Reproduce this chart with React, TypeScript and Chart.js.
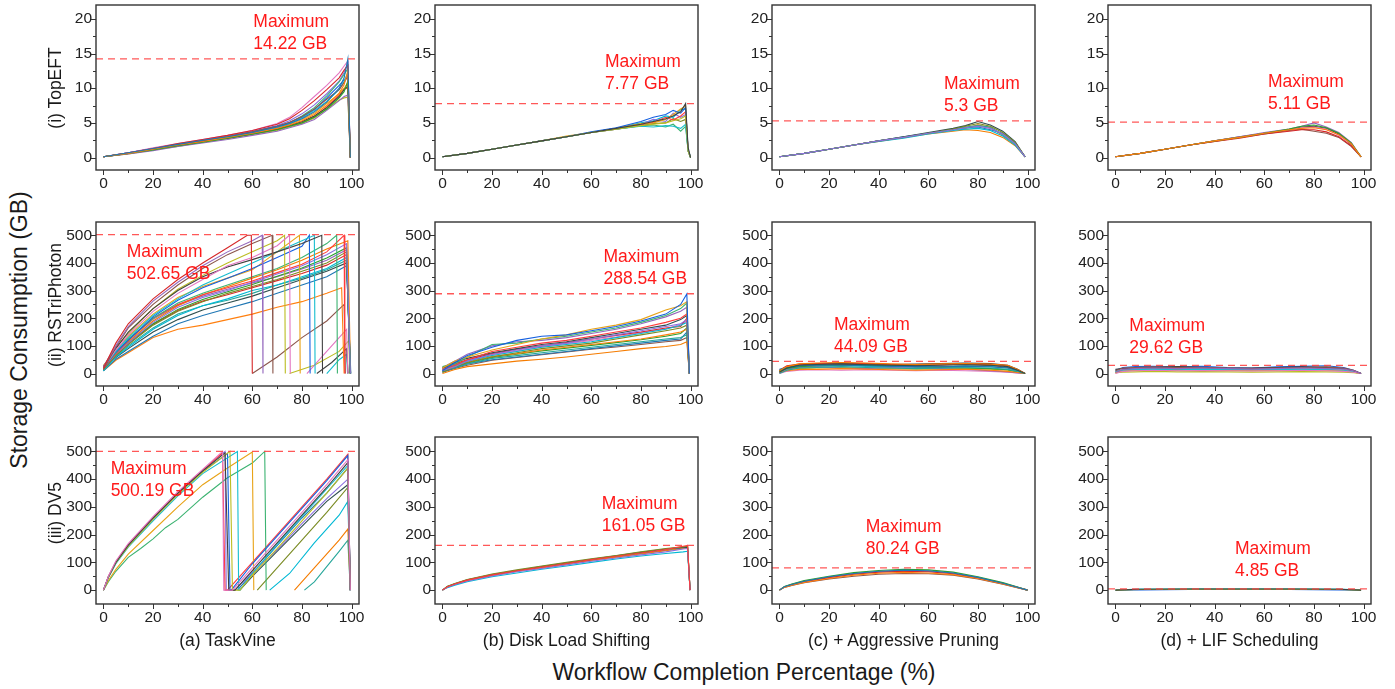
import React, { useEffect, useRef } from "react";
import { Chart, registerables } from "chart.js";
Chart.register(...registerables);

const FONT = '"Liberation Sans", Arial, Helvetica, sans-serif';

// ---------- axes ----------
const X_MIN = -3;
const X_MAX = 103;
const X_TICKS = [0, 20, 40, 60, 80, 100];
const X_MINOR = [10, 30, 50, 70, 90];
const Y_TICKS_SMALL = [0, 5, 10, 15, 20];
const Y_MINOR_SMALL = [2.5, 7.5, 12.5, 17.5];
const Y_TICKS_LARGE = [0, 100, 200, 300, 400, 500];
const Y_MINOR_LARGE = [50, 150, 250, 350, 450];
const ROW_Y_RANGE = [[-1.8, 22], [-45, 548], [-50, 552]];

// ---------- labels ----------
const ROW_LABELS = ["(i) TopEFT", "(ii) RSTriPhoton", "(iii) DV5"];
const COL_LABELS = ["(a) TaskVine", "(b) Disk Load Shifting", "(c) + Aggressive Pruning", "(d) + LIF Scheduling"];
const Y_TITLE = "Storage Consumption (GB)";
const X_TITLE = "Workflow Completion Percentage (%)";
const MAX_GB = [
  [14.22, 7.77, 5.3, 5.11],
  [502.65, 288.54, 44.09, 29.62],
  [500.19, 161.05, 80.24, 4.85],
];
// text anchor (x %, y GB) of the "Maximum" note
const MAX_NOTE_AT = [
  [[60.4, 19.5], [65.5, 13.8], [66.3, 10.6], [61.5, 10.9]],
  [[9.4, 440], [64.9, 420], [22, 176], [5.6, 173]],
  [[2.9, 436], [64.2, 310], [34.8, 226], [48.2, 148]],
];

// ---------- data: (i) TopEFT ----------
const A1_X = [0, 10, 20, 30, 40, 50, 60, 70, 75, 80, 85, 90, 95, 97, 98.5, 99.5];
const A1_Y = [
  [0.1, 0.7, 1.3, 1.9, 2.5, 3.0, 3.6, 4.4, 4.9, 5.6, 6.6, 8.0, 10.0, 11.5, 14.2, 0],
  [0.1, 0.6, 1.2, 1.8, 2.3, 2.9, 3.5, 4.2, 4.7, 5.3, 6.2, 7.5, 9.3, 10.5, 12.5, 0],
  [0.1, 0.6, 1.1, 1.7, 2.2, 2.8, 3.4, 4.0, 4.5, 5.0, 5.8, 7.0, 8.6, 9.5, 11.0, 0],
  [0.1, 0.7, 1.3, 2.0, 2.6, 3.2, 3.9, 4.8, 5.6, 6.8, 8.2, 9.8, 11.5, 12.6, 13.3, 0],
  [0.1, 0.5, 1.0, 1.6, 2.1, 2.6, 3.2, 3.8, 4.3, 4.8, 5.5, 6.8, 8.2, 8.8, 9.0, 0],
  [0.1, 0.6, 1.2, 1.8, 2.4, 3.0, 3.7, 4.5, 5.1, 5.9, 7.0, 8.4, 9.8, 10.8, 11.8, 0],
  [0.1, 0.7, 1.4, 2.0, 2.6, 3.2, 3.9, 4.9, 5.8, 7.2, 8.8, 10.4, 12.2, 13.2, 13.9, 0],
  [0.1, 0.6, 1.2, 1.7, 2.3, 2.8, 3.4, 4.1, 4.6, 5.2, 6.0, 7.2, 8.8, 9.8, 10.3, 0],
  [0.1, 0.5, 1.1, 1.6, 2.2, 2.7, 3.3, 3.9, 4.4, 4.9, 5.7, 7.0, 8.3, 8.6, 8.7, 0],
  [0.1, 0.6, 1.3, 1.9, 2.4, 3.0, 3.6, 4.3, 4.9, 5.7, 6.8, 8.1, 9.8, 11.0, 12.2, 0],
  [0.1, 0.7, 1.3, 1.9, 2.5, 3.1, 3.7, 4.5, 5.0, 5.8, 6.9, 8.6, 10.4, 11.2, 11.5, 0],
  [0.1, 0.6, 1.2, 1.8, 2.3, 2.9, 3.5, 4.2, 4.8, 5.5, 6.4, 7.8, 9.2, 10.0, 10.8, 0],
  [0.1, 0.6, 1.2, 1.8, 2.4, 3.0, 3.6, 4.4, 5.0, 6.0, 7.2, 8.9, 10.9, 12.0, 12.8, 0],
  [0.1, 0.6, 1.2, 1.7, 2.3, 2.9, 3.5, 4.1, 4.6, 5.1, 5.9, 7.3, 9.0, 9.9, 10.0, 0],
  [0.1, 0.7, 1.3, 1.9, 2.5, 3.1, 3.8, 4.6, 5.3, 6.3, 7.6, 9.2, 11.0, 12.3, 13.6, 0],
];
const B1_X = [0, 10, 20, 30, 40, 50, 60, 70, 80, 85, 90, 93, 96, 98, 99, 100];
const B1_Y = [
  [0.1, 0.6, 1.2, 1.8, 2.4, 3.0, 3.6, 4.2, 4.8, 5.2, 5.6, 6.0, 6.6, 7.77, 1.5, 0],
  [0.1, 0.6, 1.2, 1.8, 2.4, 3.0, 3.6, 4.1, 4.6, 4.8, 5.0, 5.3, 5.6, 6.0, 1.0, 0],
  [0.1, 0.6, 1.2, 1.8, 2.4, 3.0, 3.6, 4.1, 4.5, 4.4, 4.6, 4.5, 4.2, 4.8, 1.0, 0],
  [0.1, 0.6, 1.2, 1.8, 2.4, 3.0, 3.7, 4.3, 5.2, 5.8, 6.2, 6.8, 6.4, 7.2, 1.2, 0],
  [0.1, 0.6, 1.2, 1.8, 2.4, 3.1, 3.6, 4.2, 4.9, 5.0, 5.5, 6.2, 7.0, 7.4, 1.0, 0],
  [0.1, 0.6, 1.2, 1.8, 2.4, 3.0, 3.6, 4.2, 4.6, 4.7, 4.4, 4.8, 3.8, 4.5, 1.0, 0],
  [0.1, 0.6, 1.2, 1.8, 2.4, 3.0, 3.6, 4.1, 4.7, 5.1, 5.8, 5.4, 6.0, 6.6, 1.0, 0],
  [0.1, 0.6, 1.2, 1.8, 2.4, 3.0, 3.6, 4.2, 4.8, 5.5, 5.2, 6.4, 5.8, 6.2, 1.0, 0],
  [0.1, 0.6, 1.2, 1.8, 2.4, 3.0, 3.6, 4.1, 4.6, 4.9, 5.0, 5.6, 5.2, 5.5, 1.0, 0],
  [0.1, 0.6, 1.2, 1.8, 2.4, 3.0, 3.6, 4.2, 5.0, 5.3, 6.0, 5.8, 6.9, 7.0, 1.0, 0],
];
const C1_X = [0, 10, 20, 30, 40, 50, 60, 70, 75, 80, 85, 90, 95, 99];
const C1_Y = [
  [0.1, 0.6, 1.2, 1.8, 2.4, 2.9, 3.5, 4.0, 4.3, 4.5, 4.2, 3.4, 2.0, 0.1],
  [0.1, 0.6, 1.2, 1.8, 2.4, 2.9, 3.5, 4.1, 4.5, 4.9, 4.5, 3.6, 2.2, 0.1],
  [0.1, 0.6, 1.2, 1.8, 2.3, 2.8, 3.4, 3.9, 4.1, 4.2, 3.9, 3.1, 1.8, 0.1],
  [0.1, 0.6, 1.2, 1.8, 2.4, 3.0, 3.6, 4.2, 4.6, 5.2, 4.7, 3.8, 2.3, 0.1],
  [0.1, 0.6, 1.2, 1.8, 2.3, 2.9, 3.4, 3.8, 4.0, 3.9, 3.6, 2.9, 1.7, 0.1],
  [0.1, 0.6, 1.2, 1.8, 2.4, 2.9, 3.5, 4.0, 4.4, 4.6, 4.4, 3.3, 2.0, 0.1],
  [0.1, 0.6, 1.2, 1.8, 2.4, 3.0, 3.5, 4.1, 4.3, 4.4, 4.0, 3.5, 2.1, 0.1],
  [0.1, 0.6, 1.2, 1.8, 2.4, 2.9, 3.5, 4.0, 4.2, 4.7, 4.3, 3.2, 1.9, 0.1],
];
const D1_X = [0, 10, 20, 30, 40, 50, 60, 70, 75, 80, 85, 90, 95, 99];
const D1_Y = [
  [0.1, 0.6, 1.2, 1.8, 2.4, 2.9, 3.5, 4.0, 4.2, 4.3, 4.0, 3.3, 2.0, 0.1],
  [0.1, 0.6, 1.2, 1.8, 2.4, 2.9, 3.5, 4.1, 4.5, 4.7, 4.3, 3.5, 2.1, 0.1],
  [0.1, 0.6, 1.2, 1.8, 2.3, 2.8, 3.4, 3.8, 4.0, 4.0, 3.7, 3.0, 1.7, 0.1],
  [0.1, 0.6, 1.2, 1.8, 2.4, 3.0, 3.6, 4.1, 4.5, 5.0, 4.4, 3.6, 2.2, 0.1],
  [0.1, 0.6, 1.2, 1.8, 2.3, 2.9, 3.4, 3.9, 4.1, 3.8, 3.5, 2.9, 1.6, 0.1],
  [0.1, 0.6, 1.2, 1.8, 2.4, 2.9, 3.5, 4.0, 4.3, 4.4, 4.1, 3.2, 2.0, 0.1],
  [0.1, 0.6, 1.2, 1.8, 2.4, 3.0, 3.5, 4.0, 4.4, 4.5, 4.2, 3.4, 1.9, 0.1],
];

// ---------- data: (ii) RSTriPhoton ----------
// each line: x, y, x, y, ...
const A2_LINES = [
  [0, 20, 5, 110, 10, 180, 20, 270, 30, 340, 40, 400, 50, 455, 58, 500, 59.6, 500, 60, 0],
  [0, 25, 5, 100, 10, 170, 20, 262, 30, 330, 40, 390, 50, 440, 60, 480, 64, 500, 64.3, 0],
  [0, 15, 5, 95, 10, 165, 20, 250, 30, 320, 40, 380, 50, 430, 60, 470, 68, 500, 68.3, 0],
  [0, 20, 5, 85, 10, 140, 20, 225, 30, 290, 40, 340, 50, 390, 60, 420, 70, 462, 75, 500, 75.3, 0],
  [0, 25, 5, 90, 10, 150, 20, 235, 30, 300, 40, 350, 50, 385, 60, 412, 70, 440, 80, 470, 88, 500, 88.3, 0],
  [0, 25, 5, 95, 10, 145, 20, 235, 30, 305, 40, 355, 50, 400, 60, 440, 70, 480, 73, 500, 73.3, 0],
  [0, 20, 5, 80, 10, 130, 20, 210, 30, 270, 40, 320, 50, 360, 60, 400, 70, 440, 80, 480, 85, 500, 85.3, 0],
  [0, 20, 5, 78, 10, 120, 20, 205, 30, 265, 40, 310, 50, 345, 60, 380, 70, 420, 80, 460, 83, 500, 83.3, 0],
  [0, 30, 5, 82, 10, 135, 20, 215, 30, 275, 40, 315, 50, 345, 60, 375, 70, 440, 79, 500, 79.3, 0],
  [0, 25, 5, 75, 10, 125, 20, 200, 30, 255, 40, 290, 50, 320, 60, 350, 70, 380, 80, 420, 90, 470, 94, 500, 94.3, 0],
  [0, 20, 5, 72, 10, 120, 20, 200, 30, 250, 40, 285, 50, 310, 60, 335, 70, 365, 80, 395, 90, 440, 97, 500, 97.3, 0],
  [0, 20, 5, 70, 10, 110, 20, 185, 30, 240, 40, 275, 50, 300, 60, 330, 70, 360, 80, 390, 90, 430, 98, 470, 99.5, 0],
  [0, 15, 5, 65, 10, 105, 20, 175, 30, 225, 40, 260, 50, 290, 60, 315, 70, 340, 80, 370, 90, 400, 98, 440, 99.5, 0],
  [0, 10, 5, 60, 10, 95, 20, 160, 30, 210, 40, 245, 50, 270, 60, 300, 70, 320, 80, 350, 90, 380, 98, 420, 99.6, 0],
  [0, 20, 5, 58, 10, 90, 20, 150, 30, 195, 40, 230, 50, 255, 60, 280, 70, 310, 80, 340, 90, 370, 98, 400, 99.6, 0],
  [0, 15, 5, 66, 10, 115, 20, 190, 30, 245, 40, 285, 50, 315, 60, 345, 70, 375, 80, 410, 90, 450, 98.5, 480, 99.6, 0],
  [0, 15, 5, 62, 10, 100, 20, 165, 30, 215, 40, 245, 50, 265, 60, 290, 70, 320, 80, 345, 90, 375, 98, 410, 99.5, 0],
  [0, 10, 5, 52, 10, 80, 20, 135, 30, 180, 40, 210, 50, 235, 60, 260, 70, 290, 80, 320, 90, 350, 98, 390, 99.7, 0],
  [0, 10, 5, 48, 10, 75, 20, 130, 30, 160, 40, 175, 50, 195, 60, 215, 70, 240, 80, 260, 90, 290, 96, 310, 97, 0],
  [0, 18, 5, 68, 10, 112, 20, 180, 30, 232, 40, 268, 50, 296, 60, 322, 70, 352, 80, 382, 90, 418, 98, 455, 99.4, 0],
  [0, 12, 5, 64, 10, 108, 20, 178, 30, 228, 40, 262, 50, 285, 60, 310, 70, 336, 80, 362, 90, 392, 98, 430, 99.5, 0],
  [0, 22, 5, 74, 10, 122, 20, 196, 30, 248, 40, 280, 50, 305, 60, 328, 70, 350, 80, 378, 90, 410, 98, 448, 99.6, 0],
  [60, 0, 70, 60, 80, 130, 90, 190, 97, 250, 97.5, 0],
  [82, 0, 88, 60, 94, 120, 98, 160, 98.5, 0],
  [86, 0, 92, 40, 98, 90, 98.6, 0],
  [75, 0, 85, 30, 95, 80, 99, 120, 99.2, 0],
  [90, 0, 95, 50, 98, 70, 98.4, 0],
];
const B2_X = [0, 5, 10, 20, 30, 40, 50, 60, 70, 80, 90, 96, 98.5, 99.5];
const B2_Y = [
  [10, 40, 65, 95, 120, 135, 140, 155, 170, 190, 215, 250, 288, 0],
  [20, 45, 60, 85, 105, 125, 140, 160, 175, 195, 230, 245, 260, 0],
  [25, 35, 60, 105, 110, 125, 135, 150, 165, 185, 210, 235, 255, 0],
  [15, 30, 50, 80, 95, 110, 120, 135, 150, 165, 185, 200, 215, 0],
  [10, 25, 45, 70, 85, 100, 110, 125, 140, 155, 170, 180, 195, 0],
  [5, 25, 40, 60, 75, 90, 100, 110, 125, 140, 155, 165, 175, 0],
  [15, 30, 45, 65, 80, 95, 105, 115, 130, 145, 160, 175, 185, 0],
  [20, 40, 55, 75, 90, 105, 115, 130, 145, 160, 175, 195, 210, 0],
  [0, 15, 25, 35, 45, 52, 60, 70, 80, 90, 98, 105, 115, 0],
  [10, 20, 35, 55, 65, 75, 85, 95, 105, 115, 125, 130, 140, 0],
  [5, 20, 35, 50, 60, 70, 80, 90, 100, 110, 120, 125, 150, 0],
  [12, 28, 42, 62, 72, 85, 95, 105, 115, 125, 140, 150, 160, 0],
  [8, 22, 38, 58, 70, 82, 92, 102, 112, 122, 135, 145, 165, 0],
  [18, 35, 50, 72, 88, 100, 112, 125, 138, 150, 165, 170, 200, 0],
  [22, 45, 70, 100, 115, 120, 130, 145, 160, 180, 205, 225, 240, 0],
  [6, 18, 30, 48, 58, 68, 78, 88, 96, 105, 115, 120, 130, 0],
  [14, 32, 48, 68, 82, 96, 108, 120, 132, 148, 162, 178, 190, 0],
];
const C2_X = [0, 3, 8, 15, 25, 35, 45, 55, 65, 75, 85, 92, 96, 99];
const C2_Y = [
  [5, 20, 30, 33, 35, 32, 30, 28, 30, 32, 30, 25, 12, 0],
  [10, 25, 35, 38, 40, 38, 35, 33, 35, 36, 34, 30, 15, 0],
  [0, 12, 20, 22, 25, 22, 20, 18, 20, 22, 20, 15, 8, 0],
  [15, 22, 28, 30, 30, 28, 26, 25, 24, 26, 24, 20, 10, 0],
  [5, 10, 15, 15, 18, 16, 14, 12, 14, 16, 12, 8, 4, 0],
  [8, 18, 25, 28, 28, 30, 28, 25, 22, 20, 18, 14, 6, 0],
  [12, 28, 34, 36, 38, 36, 33, 30, 32, 34, 33, 28, 14, 0],
  [3, 15, 22, 24, 20, 18, 22, 20, 18, 15, 10, 6, 2, 0],
  [10, 20, 26, 30, 32, 34, 30, 28, 26, 24, 30, 22, 10, 0],
  [0, 8, 12, 14, 12, 14, 12, 10, 12, 10, 8, 5, 2, 0],
  [6, 22, 32, 35, 36, 34, 33, 34, 36, 38, 36, 30, 16, 0],
  [4, 14, 18, 20, 22, 20, 18, 16, 16, 18, 16, 12, 6, 0],
  [9, 16, 22, 26, 28, 26, 24, 22, 24, 28, 26, 20, 10, 0],
];
const D2_X = [0, 3, 8, 15, 25, 35, 45, 55, 65, 75, 85, 92, 96, 99];
const D2_Y = [
  [5, 15, 18, 20, 18, 20, 18, 16, 18, 20, 18, 16, 10, 0],
  [10, 20, 22, 24, 22, 23, 20, 18, 20, 22, 24, 20, 12, 0],
  [0, 8, 10, 12, 10, 11, 10, 9, 10, 12, 10, 8, 5, 0],
  [15, 18, 20, 22, 25, 22, 19, 20, 22, 24, 22, 18, 10, 0],
  [3, 5, 6, 8, 6, 7, 6, 5, 6, 7, 6, 5, 3, 0],
  [8, 12, 15, 16, 14, 16, 15, 14, 15, 16, 15, 12, 6, 0],
  [12, 22, 25, 26, 24, 26, 22, 20, 24, 26, 28, 22, 12, 0],
  [2, 10, 12, 10, 12, 14, 12, 10, 12, 14, 12, 10, 5, 0],
  [6, 14, 16, 18, 20, 18, 16, 18, 20, 22, 20, 17, 9, 0],
  [4, 9, 12, 14, 16, 14, 12, 12, 14, 16, 14, 11, 6, 0],
];

// ---------- data: (iii) DV5 ----------
const A3_LINES = [
  [0, 0, 2, 50, 5, 105, 10, 168, 20, 265, 30, 355, 40, 435, 48, 500, 48.5, 0, 52, 0, 60, 80, 70, 180, 80, 280, 90, 380, 98.5, 470, 99.5, 0],
  [0, 0, 2, 48, 5, 100, 10, 162, 20, 260, 30, 350, 40, 430, 49, 495, 50.5, 0, 53, 0, 60, 70, 70, 170, 80, 270, 90, 370, 98.5, 460, 99.5, 0],
  [0, 0, 2, 46, 5, 98, 10, 158, 20, 255, 30, 345, 40, 425, 51, 500, 52, 0, 55, 0, 60, 55, 70, 150, 80, 250, 90, 350, 98.5, 440, 99.5, 0],
  [0, 0, 2, 45, 5, 95, 10, 155, 20, 250, 30, 340, 40, 420, 54, 500, 54.5, 0, 55, 0, 60, 60, 70, 165, 80, 265, 90, 365, 98.5, 450, 99.5, 0],
  [0, 0, 2, 47, 5, 98, 10, 160, 20, 258, 30, 348, 40, 428, 50, 492, 51, 0, 51.5, 0, 60, 95, 70, 195, 80, 295, 90, 395, 98.5, 485, 99.5, 0],
  [0, 0, 2, 35, 5, 75, 10, 130, 20, 215, 30, 300, 40, 380, 50, 440, 60, 498, 60.6, 0],
  [0, 0, 2, 30, 5, 68, 10, 118, 15, 150, 20, 185, 25, 225, 30, 255, 40, 335, 50, 405, 60, 458, 65, 500, 65.6, 0],
  [0, 0, 2, 49, 5, 102, 10, 165, 20, 262, 30, 352, 40, 432, 48, 495, 49, 0, 50, 0, 60, 100, 70, 200, 80, 300, 90, 400, 98.5, 490, 99.5, 0],
  [0, 0, 2, 48, 5, 100, 10, 160, 20, 260, 30, 350, 40, 430, 49, 500, 49.5, 0, 53, 0, 60, 65, 70, 145, 80, 240, 90, 330, 98.5, 400, 99.5, 0],
  [62, 0, 70, 80, 80, 180, 90, 280, 98.5, 370, 99.5, 0],
  [67, 0, 75, 60, 85, 170, 95, 270, 98.5, 320, 99.5, 0],
  [55, 0, 60, 50, 70, 140, 80, 230, 90, 320, 98.5, 380, 99.5, 0],
  [77, 0, 85, 80, 95, 180, 98.5, 220, 99.5, 0],
  [81, 0, 85, 30, 95, 140, 98.5, 180, 99.5, 0],
  [54, 0, 60, 60, 70, 160, 80, 260, 90, 350, 98.5, 440, 99.5, 0],
];
const B3_X = [0, 2, 5, 10, 20, 30, 40, 50, 60, 70, 80, 90, 97, 98.8, 99.8];
const B3_Y = [
  [0, 12, 22, 36, 55, 70, 83, 96, 110, 122, 134, 146, 158, 161, 0],
  [0, 10, 20, 33, 51, 66, 78, 91, 104, 116, 127, 138, 148, 150, 0],
  [0, 14, 24, 38, 58, 73, 87, 100, 113, 125, 138, 150, 156, 158, 0],
  [0, 9, 18, 30, 48, 62, 75, 87, 100, 112, 123, 132, 138, 140, 0],
  [0, 13, 23, 37, 56, 71, 85, 98, 111, 124, 136, 148, 154, 155, 0],
  [0, 11, 21, 34, 53, 68, 80, 93, 107, 119, 130, 142, 150, 152, 0],
  [0, 12, 22, 35, 54, 69, 82, 95, 108, 120, 132, 144, 152, 156, 0],
];
const C3_X = [0, 2, 5, 10, 20, 30, 40, 50, 60, 70, 80, 90, 100];
const C3_Y = [
  [0, 12, 20, 32, 48, 60, 68, 72, 70, 62, 46, 25, 0],
  [0, 10, 18, 28, 42, 54, 61, 64, 62, 56, 42, 22, 0],
  [0, 13, 22, 35, 50, 63, 71, 75, 73, 65, 48, 27, 0],
  [0, 11, 19, 30, 45, 57, 65, 68, 66, 59, 44, 24, 0],
  [0, 12, 21, 33, 47, 59, 66, 70, 68, 61, 45, 26, 0],
  [0, 10, 17, 27, 40, 50, 57, 60, 59, 54, 40, 21, 0],
];
const D3_X = [0, 10, 30, 50, 70, 90, 99];
const D3_Y = [
  [0, 3, 4, 4, 4, 3, 0],
  [0, 2, 3, 3, 3, 2, 0],
  [0, 4, 4.5, 4.8, 4.5, 4, 0],
  [0, 1, 2, 2, 2, 1, 0],
];

const PALETTE = [
  "#1f77b4", "#ff7f0e", "#2ca02c", "#d62728", "#9467bd", "#8c564b", "#e377c2", "#404040",
  "#bcbd22", "#17becf", "#1560e0", "#e8a317", "#3cb371", "#ff3b3b", "#8a6fdf", "#7a8b23",
  "#00b8d4", "#2f4f4f", "#f57c00", "#26a69a",
];

type Pt = { x: number; y: number };
const onGrid = (xs: number[], ys: number[][]): Pt[][] => ys.map((row) => row.map((y, i) => ({ x: xs[i], y })));
const fromPairs = (lines: number[][]): Pt[][] =>
  lines.map((l) => {
    const pts: Pt[] = [];
    for (let i = 0; i < l.length; i += 2) pts.push({ x: l[i], y: l[i + 1] });
    return pts;
  });

const PANELS: Pt[][][][] = [
  [onGrid(A1_X, A1_Y), onGrid(B1_X, B1_Y), onGrid(C1_X, C1_Y), onGrid(D1_X, D1_Y)],
  [fromPairs(A2_LINES), onGrid(B2_X, B2_Y), onGrid(C2_X, C2_Y), onGrid(D2_X, D2_Y)],
  [fromPairs(A3_LINES), onGrid(B3_X, B3_Y), onGrid(C3_X, C3_Y), onGrid(D3_X, D3_Y)],
];

// ---------- layout ----------
const COL_LEFT = [96, 435, 772, 1108];
const ROW_TOP = [5, 222, 437];
const ROW_H = [165, 164, 167];
const PLOT_W = 263;
const Y_AXIS_W = 50;
const PAD_TOP = 8;
const PAD_RIGHT = 18;
const X_AXIS_H = 28;

function Panel({ row, col }: { row: number; col: number }) {
  const ref = useRef<HTMLCanvasElement>(null);
  const width = Y_AXIS_W + PLOT_W + PAD_RIGHT;
  const height = PAD_TOP + ROW_H[row] + X_AXIS_H;
  useEffect(() => {
    const lines = PANELS[row][col];
    const [ymin, ymax] = ROW_Y_RANGE[row];
    const yMajor = row === 0 ? Y_TICKS_SMALL : Y_TICKS_LARGE;
    const yMinor = row === 0 ? Y_MINOR_SMALL : Y_MINOR_LARGE;
    const maxVal = MAX_GB[row][col];
    const note = MAX_NOTE_AT[row][col];

    const framePlugin = {
      id: "frameTicks",
      afterDraw(chart: any) {
        const { ctx, chartArea: a, scales } = chart;
        const xs = scales.x;
        const ys = scales.y;
        ctx.save();
        ctx.strokeStyle = "#333";
        ctx.lineWidth = 1.4;
        ctx.strokeRect(a.left, a.top, a.right - a.left, a.bottom - a.top);
        ctx.lineWidth = 1;
        ctx.beginPath();
        const vt = (v: number, len: number) => {
          const p = Math.round(xs.getPixelForValue(v)) + 0.5;
          ctx.moveTo(p, a.bottom);
          ctx.lineTo(p, a.bottom + len);
        };
        const ht = (v: number, len: number) => {
          const p = Math.round(ys.getPixelForValue(v)) + 0.5;
          ctx.moveTo(a.left, p);
          ctx.lineTo(a.left - len, p);
        };
        X_TICKS.forEach((v) => vt(v, 5));
        X_MINOR.forEach((v) => vt(v, 3));
        yMajor.forEach((v) => ht(v, 5));
        yMinor.forEach((v) => ht(v, 3));
        ctx.stroke();
        ctx.restore();
      },
    };

    const maxPlugin = {
      id: "maxNote",
      afterDatasetsDraw(chart: any) {
        const { ctx, chartArea: a, scales } = chart;
        const py = scales.y.getPixelForValue(maxVal);
        ctx.save();
        ctx.strokeStyle = "rgba(255,70,70,0.9)";
        ctx.lineWidth = 1.3;
        ctx.setLineDash([7, 5]);
        ctx.beginPath();
        ctx.moveTo(a.left, py);
        ctx.lineTo(a.right, py);
        ctx.stroke();
        ctx.setLineDash([]);
        ctx.fillStyle = "#ff1a1a";
        ctx.font = `17.5px ${FONT}`;
        ctx.textAlign = "left";
        ctx.textBaseline = "middle";
        const tx = scales.x.getPixelForValue(note[0]);
        const ty = scales.y.getPixelForValue(note[1]);
        ctx.fillText("Maximum", tx, ty);
        ctx.fillText(`${maxVal} GB`, tx, ty + 22);
        ctx.restore();
      },
    };

    const tickFont = { family: FONT, size: 15.5 };
    const chart = new Chart(ref.current as HTMLCanvasElement, {
      type: "line",
      data: {
        datasets: lines.map((pts, i) => ({
          data: pts,
          borderColor: PALETTE[(i + row * 3 + col * 7) % PALETTE.length],
          borderWidth: 1.1,
          pointRadius: 0,
          fill: false,
          tension: 0,
        })),
      },
      options: {
        animation: false,
        responsive: false,
        events: [],
        layout: { padding: { left: 0, top: PAD_TOP, right: PAD_RIGHT, bottom: 0 } },
        plugins: { legend: { display: false }, tooltip: { enabled: false } },
        scales: {
          x: {
            type: "linear",
            min: X_MIN,
            max: X_MAX,
            grid: { display: false, drawTicks: false },
            border: { display: false },
            ticks: { font: tickFont, color: "#222", padding: 4, maxRotation: 0, autoSkip: false },
            afterBuildTicks: (s: any) => {
              s.ticks = X_TICKS.map((v) => ({ value: v }));
            },
            afterFit: (s: any) => {
              s.height = X_AXIS_H;
              s.paddingLeft = 0;
              s.paddingRight = 0;
            },
          },
          y: {
            type: "linear",
            min: ymin,
            max: ymax,
            grid: { display: false, drawTicks: false },
            border: { display: false },
            ticks: { font: tickFont, color: "#222", padding: 4, autoSkip: false },
            afterBuildTicks: (s: any) => {
              s.ticks = yMajor.map((v) => ({ value: v }));
            },
            afterFit: (s: any) => {
              s.width = Y_AXIS_W;
              s.paddingTop = 0;
              s.paddingBottom = 0;
            },
          },
        },
      } as any,
      plugins: [framePlugin, maxPlugin],
    });
    return () => chart.destroy();
  }, [row, col]);
  return (
    <canvas
      ref={ref}
      width={width}
      height={height}
      style={{ position: "absolute", left: COL_LEFT[col] - Y_AXIS_W, top: ROW_TOP[row] - PAD_TOP, width, height }}
    />
  );
}

const ROW_LABEL_CY = [88, 305, 513];
const ROW_LABEL_CX = 55;
const COL_LABEL_CY = 640;

export default function App() {
  const textBase: React.CSSProperties = {
    position: "absolute",
    whiteSpace: "nowrap",
    textAlign: "center",
    color: "#1a1a1a",
    fontFamily: FONT,
  };
  return (
    <div
      style={{
        position: "absolute",
        left: 0,
        top: 0,
        width: 1395,
        height: 689,
        overflow: "hidden",
        background: "#fff",
        fontFamily: FONT,
      }}
    >
      {[0, 1, 2].map((r) => [0, 1, 2, 3].map((c) => <Panel key={`${r}-${c}`} row={r} col={c} />))}
      {ROW_LABELS.map((t, r) => (
        <div
          key={t}
          style={{
            ...textBase,
            left: ROW_LABEL_CX - 100,
            top: ROW_LABEL_CY[r] - 12,
            width: 200,
            height: 24,
            lineHeight: "24px",
            fontSize: 17.5,
            transform: "rotate(-90deg)",
            zIndex: 2,
          }}
        >
          {t}
        </div>
      ))}
      {COL_LABELS.map((t, c) => (
        <div
          key={t}
          style={{
            ...textBase,
            left: COL_LEFT[c] + PLOT_W / 2 - 150,
            top: COL_LABEL_CY - 12,
            width: 300,
            height: 24,
            lineHeight: "24px",
            fontSize: 17.5,
          }}
        >
          {t}
        </div>
      ))}
      <div
        style={{
          ...textBase,
          left: 19 - 250,
          top: 330 - 15,
          width: 500,
          height: 30,
          lineHeight: "30px",
          fontSize: 23,
          transform: "rotate(-90deg)",
        }}
      >
        {Y_TITLE}
      </div>
      <div
        style={{
          ...textBase,
          left: 744 - 300,
          top: 672 - 15,
          width: 600,
          height: 30,
          lineHeight: "30px",
          fontSize: 23,
        }}
      >
        {X_TITLE}
      </div>
    </div>
  );
}
